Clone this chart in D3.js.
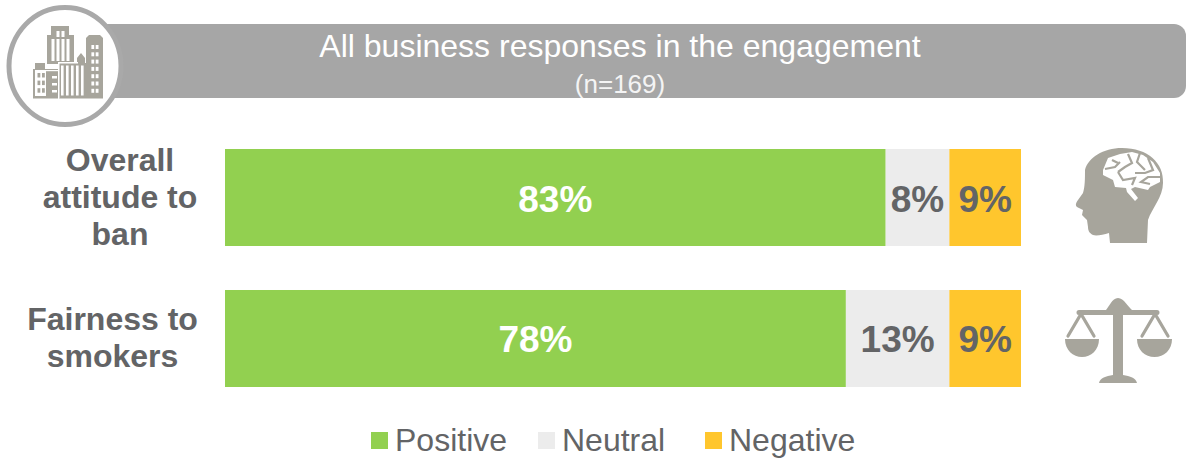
<!DOCTYPE html>
<html>
<head>
<meta charset="utf-8">
<script src="https://cdnjs.cloudflare.com/ajax/libs/d3/7.8.5/d3.min.js"></script>
<style>
  html, body { margin: 0; padding: 0; background: #fff; }
  svg { display: block; font-family: "Liberation Sans", Arial, sans-serif; }
</style>
</head>
<body>
<svg id="chart" width="1187" height="459"></svg>
<script>
// Survey results
const categories = ["Overall attitude to ban", "Fairness to smokers"];
const categoryLines = [["Overall", "attitude to", "ban"], ["Fairness to", "smokers"]];
const seriesNames = ["Positive", "Neutral", "Negative"];
const positive = [83, 78];
const neutral = [8, 13];
const negative = [9, 9];
const seriesColors = ["#92d050", "#ececec", "#ffc62d"];
const labelColors = ["#ffffff", "#636466", "#636466"];
const titleText = "All business responses in the engagement";
const subtitleText = "(n=169)";

const svg = d3.select("#chart");
const iconFill = "#a7a59c";
const bannerFill = "#a6a6a6";

const x = d3.scaleLinear().domain([0, 100]).range([225, 1021]);
const y = d3.scaleBand().domain(categories).range([149, 387]).paddingInner(0.312);

function rect(parent, r) {
  parent.append("rect").attr("x", r[0]).attr("y", r[1]).attr("width", r[2]).attr("height", r[3]);
}

// Header band with rounded right end
svg.append("path")
  .attr("d", "M100,24 H1174 a12,12 0 0 1 12,12 V86 a12,12 0 0 1 -12,12 H100 Z")
  .attr("fill", bannerFill);

svg.append("text").attr("x", 620).attr("y", 57)
  .attr("text-anchor", "middle").attr("font-size", 32).attr("fill", "#fff").text(titleText);
svg.append("text").attr("x", 620).attr("y", 93)
  .attr("text-anchor", "middle").attr("font-size", 26).attr("fill", "#f4f4f4").text(subtitleText);

// Badge with the office-block icon
svg.append("ellipse").attr("cx", 65).attr("cy", 66).attr("rx", 56).attr("ry", 58.5)
  .attr("fill", "#fff").attr("stroke", "#a9a9a9").attr("stroke-width", 5);

const city = svg.append("g").attr("fill", iconFill);
// Tall tower, stepped crown
city.append("path").attr("d", "M47,64 V35 H51 V26 H69 V35 H74 V64 Z");
// Left block, with its roof cap
city.append("path").attr("d", "M33,98.5 V69 H35 V63 H45 V69 H58 V98.5 Z");
// Central block and chimney
city.append("path").attr("d", "M59,98.5 V63 H77 V58 L81,53 L85,58 V63 H86 V98.5 Z");
// Right tower
city.append("path").attr("d", "M86,98.5 V38 L89,35 H100 L103,38 V98.5 Z");

const cityLight = svg.append("g").attr("fill", "#fff");
[[51.5, 39, 3, 22], [56.5, 39, 3, 22], [61.5, 39, 3, 22], [66.5, 39, 3, 22],
 [56.5, 31, 3, 6], [61.5, 31, 3, 6],
 [61, 65.5, 2.6, 30], [66, 65.5, 2.6, 30], [71, 65.5, 2.6, 30], [76, 65.5, 2.6, 30], [81, 65.5, 2.6, 30],
 [58, 62, 20, 1.5], [58, 62, 1.5, 36.5],
 [35, 70, 23, 1.2], [35, 71, 11, 25],
 [52, 76, 5, 2.5], [52, 83, 5, 2.5], [52, 90, 5, 2.5]].forEach(r => rect(cityLight, r));
// Right tower windows
d3.range(7).forEach(row => {
  [91.4, 95.7].forEach(col => rect(cityLight, [col, 45 + row * 7.3, 2.8, 4]));
});
// Left block windows
const cityDark = svg.append("g").attr("fill", iconFill);
d3.range(3).forEach(row => {
  [37.5, 42].forEach(col => rect(cityDark, [col, 73 + row * 7.6, 2.8, 4.5]));
});

// Stacked bars
const rows = categories.map((c, i) => ({ c, values: [positive[i], neutral[i], negative[i]] }));
rows.forEach(row => {
  let start = 0;
  row.values.forEach((v, k) => {
    svg.append("rect")
      .attr("x", x(start)).attr("y", y(row.c))
      .attr("width", x(start + v) - x(start)).attr("height", y.bandwidth())
      .attr("fill", seriesColors[k]);
    svg.append("text")
      .attr("x", x(start + v / 2)).attr("y", y(row.c) + y.bandwidth() / 2 + 14)
      .attr("text-anchor", "middle").attr("font-size", 37).attr("font-weight", 700)
      .attr("fill", labelColors[k]).text(v + "%");
    start += v;
  });
});

// Row labels, centred on each bar
categories.forEach((c, i) => {
  const lines = categoryLines[i];
  const centre = y(c) + y.bandwidth() / 2;
  lines.forEach((line, j) => {
    svg.append("text")
      .attr("x", i === 0 ? 120 : 112.5)
      .attr("y", centre + 10.5 + (j - (lines.length - 1) / 2) * 37)
      .attr("text-anchor", "middle").attr("font-size", 32).attr("font-weight", 700)
      .attr("fill", "#636466").text(line);
  });
});

// Head with brain icon
svg.append("path").attr("fill", iconFill).attr("d",
  "M1147,243 L1110,243 L1109,233 C1103,235 1096,236 1093,235 C1089,233 1088,230 1088,227 " +
  "L1087,220 L1082,215 L1083,210 L1077,207 C1075,205 1076,203 1078,200 L1083,193 C1085,187 1085,178 1085,170 " +
  "C1088,158 1103,148 1122,148 C1148,148 1164,163 1163,183 C1163,197 1152,208 1148,220 Z");
svg.append("path").attr("fill", "#fff").attr("d",
  "M1103,170 L1108,158 L1120,154 L1132,152 L1143,155 L1153,162 L1160,173 L1160,182 L1150,187 " +
  "L1148,190 L1135,187 L1131,189 L1138,198 L1135,201 L1127,192 L1126,188 L1115,187 L1113,180 L1103,175 Z");
const brainSeams = [
  [[1105, 169], [1115, 167], [1120, 162]],
  [[1112, 160], [1118, 163]],
  [[1128, 154], [1132, 163], [1125, 167], [1118, 172]],
  [[1140, 153], [1137, 162], [1145, 170]],
  [[1148, 158], [1153, 170], [1145, 173], [1135, 173]],
  [[1118, 172], [1123, 180], [1135, 178], [1132, 185]],
  [[1161, 177], [1148, 177], [1141, 182], [1150, 184]]
];
const seamLine = d3.line();
brainSeams.forEach(s => {
  svg.append("path").attr("d", seamLine(s)).attr("fill", "none")
    .attr("stroke", iconFill).attr("stroke-width", 2.2);
});

// Balance scales icon
const scales = svg.append("g").attr("fill", iconFill);
scales.append("path").attr("d",
  "M1079,310 H1106 C1109,307 1112,298 1118,298 C1124,298 1128,307 1132,310 H1157 " +
  "a2.5,2.5 0 0 1 0,5 H1123 V375 C1130,376 1136,378 1137,383 H1099 C1100,378 1106,376 1113,375 V315 H1079 a2.5,2.5 0 0 1 0,-5 Z");
scales.append("path").attr("d", "M1065,339 H1099 C1099,350 1091,357 1082,357 C1073,357 1065,350 1065,339 Z");
scales.append("path").attr("d", "M1137,339 H1172 C1172,350 1164,357 1154.5,357 C1145,357 1137,350 1137,339 Z");
[1081, 1155].forEach(apex => {
  scales.append("path").attr("fill", "none").attr("stroke", iconFill).attr("stroke-width", 3.2)
    .attr("stroke-linecap", "round")
    .attr("d", `M${apex - 13},336 L${apex},314 L${apex + 13},336`);
});

// Legend
const legendX = [371, 538, 705];
seriesNames.forEach((name, k) => {
  svg.append("rect").attr("x", legendX[k]).attr("y", 432)
    .attr("width", 17).attr("height", 17).attr("fill", seriesColors[k]);
  svg.append("text").attr("x", legendX[k] + 24).attr("y", 451)
    .attr("font-size", 32).attr("fill", "#636466").text(name);
});
</script>
</body>
</html>
